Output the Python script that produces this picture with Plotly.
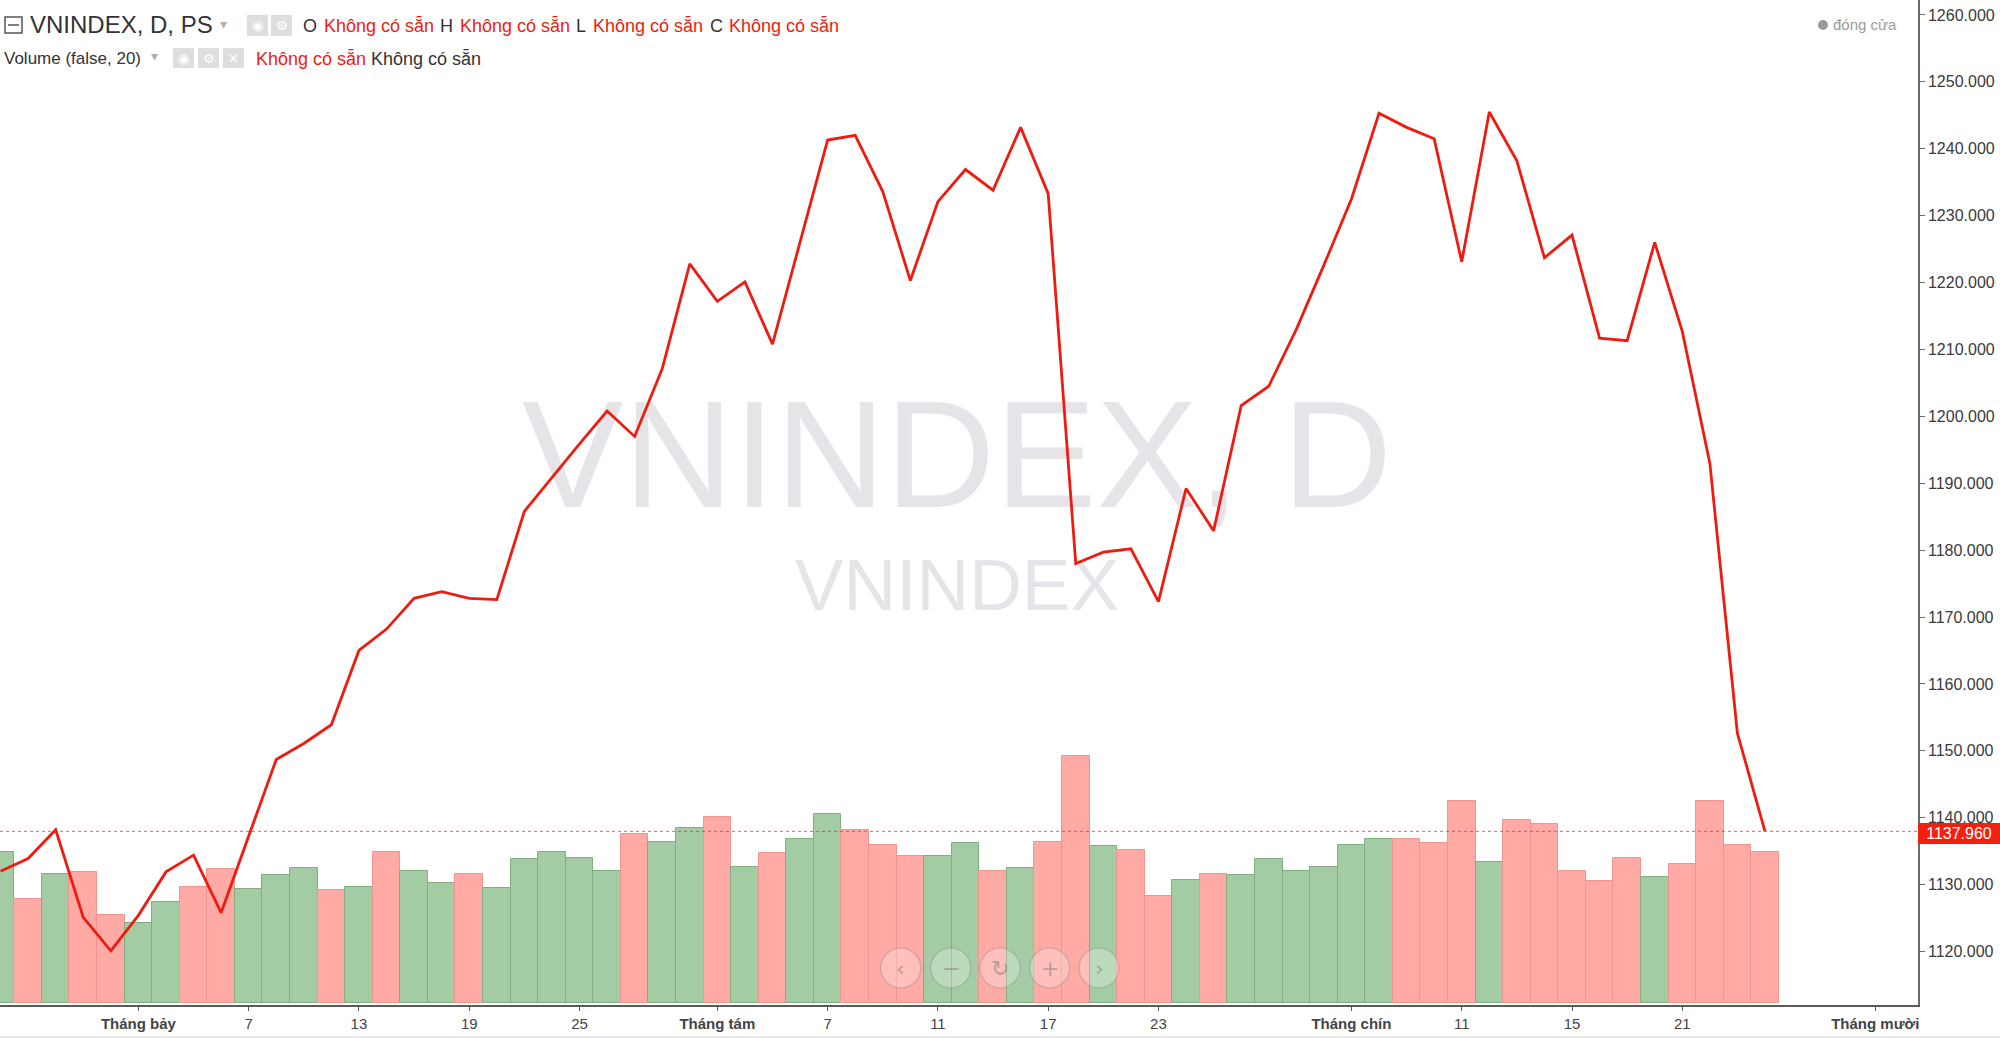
import pandas as pd
import plotly.graph_objects as go

# ---------------- data ----------------
holidays = ["2023-09-01", "2023-09-04"]
trading_days = [d.strftime("%Y-%m-%d") for d in pd.bdate_range("2023-06-26", "2023-10-02")
                if d.strftime("%Y-%m-%d") not in holidays]

close = [
    1132.0, 1133.9, 1138.2, 1125.1, 1120.1,            # Jun 26-30
    1125.4, 1131.9, 1134.4, 1125.8, 1137.3,            # Jul 3-7
    1148.7, 1151.1, 1153.9, 1165.0, 1168.2,            # Jul 10-14
    1172.8, 1173.8, 1172.8, 1172.6, 1185.8,            # Jul 17-21
    1190.9, 1195.9, 1200.8, 1197.0, 1207.1,            # Jul 24-28
    1222.8, 1217.2, 1220.1, 1210.8, 1226.0,            # Jul 31-Aug 4
    1241.3, 1242.0, 1233.6, 1220.3, 1232.1,            # Aug 7-11
    1236.9, 1233.8, 1243.2, 1233.3, 1178.0,            # Aug 14-18
    1179.7, 1180.2, 1172.3, 1189.2, 1182.9,            # Aug 21-25
    1201.6, 1204.5, 1213.0, 1222.6,                    # Aug 28-31
    1232.5, 1245.3, 1243.2, 1241.5,                    # Sep 5-8
    1223.1, 1245.5, 1238.2, 1223.7, 1227.1,            # Sep 11-15
    1211.7, 1211.3, 1226.0, 1212.7, 1193.0,            # Sep 18-22
    1152.6, 1137.96,                                   # Sep 25-26
]

volume = [
    754, 522, 645, 654, 442,
    399, 507, 580, 669, 572,
    639, 675, 565, 580, 754,
    660, 602, 645, 574, 719,
    754, 725, 660, 847, 805,
    874, 932, 682, 749, 820,
    945, 865, 792, 734, 734,
    799, 660, 675, 807, 1237,
    785, 764, 537, 615, 645,
    639, 719, 660, 682,
    792, 820, 820, 799,
    1012, 704, 915, 894, 660,
    609, 725, 632, 697, 1012,
    792, 754,
]

direction = [
    "up", "down", "up", "down", "down",
    "up", "up", "down", "down", "up",
    "up", "up", "down", "up", "down",
    "up", "up", "down", "up", "up",
    "up", "up", "up", "down", "up",
    "up", "down", "up", "down", "up",
    "up", "down", "down", "down", "up",
    "up", "down", "up", "down", "down",
    "up", "down", "down", "up", "down",
    "up", "up", "up", "up",
    "up", "up", "down", "down",
    "down", "up", "down", "down", "down",
    "down", "down", "up", "down", "down",
    "down", "down",
]

tick_dates = ["2023-07-03", "2023-07-07", "2023-07-13", "2023-07-19", "2023-07-25",
              "2023-08-01", "2023-08-07", "2023-08-11", "2023-08-17", "2023-08-23",
              "2023-09-05", "2023-09-11", "2023-09-15", "2023-09-21", "2023-10-02"]
tick_labels = ["<b>Tháng bảy</b>", "7", "13", "19", "25",
               "<b>Tháng tám</b>", "7", "11", "17", "23",
               "<b>Tháng chín</b>", "11", "15", "21", "<b>Tháng mười</b>"]

price_ticks = [1120, 1130, 1140, 1150, 1160, 1170, 1180, 1190, 1200, 1210,
               1220, 1230, 1240, 1250, 1260]
last_price = 1137.96

# ---------------- styling ----------------
W, H = 2000, 1038
PW, PH = 1918, 1005          # plot area size (px)
FONT = "Liberation Sans, Arial, Helvetica, sans-serif"
RED = "#ee1c10"
UP_FILL, UP_LINE = "#a4cca4", "#7fae80"
DN_FILL, DN_LINE = "#ffaaa5", "#f2948e"

dates = trading_days[:len(close)]
xs = [trading_days.index(d) for d in dates]
tickvals = [trading_days.index(d) for d in tick_dates]

x_range = [-0.02, 69.55]
y_price_range = [1112.0, 1262.24]
y_vol_range = [-10, 5015]

fills = [UP_FILL if d == "up" else DN_FILL for d in direction]
edges = [UP_LINE if d == "up" else DN_LINE for d in direction]


def px(x):
    return x / PW


def py(y):
    return 1 - y / PH


def data_x(pxl):
    return x_range[0] + pxl / PW * (x_range[1] - x_range[0])


def data_y(pyl):
    return y_price_range[1] - pyl / PH * (y_price_range[1] - y_price_range[0])


fig = go.Figure()

# volume bars (bottom subplot layer)
fig.add_trace(go.Bar(
    x=xs, y=volume, width=1,
    marker=dict(color=fills, line=dict(color=edges, width=1)),
    xaxis="x", yaxis="y", hoverinfo="skip",
))

# watermark (drawn under the price line)
fig.add_trace(go.Scatter(
    x=[data_x(957), data_x(957)], y=[data_y(469), data_y(592)],
    mode="text", text=["VNINDEX, D", "VNINDEX"],
    textfont=dict(family=FONT, size=[152, 73], color="#e6e4e9"),
    xaxis="x", yaxis="y2", hoverinfo="skip",
))

# price line
fig.add_trace(go.Scatter(
    x=xs, y=close, mode="lines",
    line=dict(color=RED, width=2.8),
    xaxis="x", yaxis="y2", hoverinfo="skip",
))

shapes = []
annotations = []

# dotted last-price line
shapes.append(dict(type="line", xref="paper", yref="y2", x0=0, x1=1,
                   y0=last_price, y1=last_price, layer="above",
                   line=dict(color="rgba(240,40,30,0.75)", width=1, dash="dot")))

# last price box
annotations.append(dict(xref="paper", yref="y2", x=1, y=last_price,
                        xanchor="left", yanchor="middle", showarrow=False,
                        text="1137.960", font=dict(family=FONT, size=16, color="white"),
                        bgcolor="#f2200f", borderpad=2, borderwidth=0,
                        width=78, align="center", yshift=-2))


def label(x, y, text, size, color, weight=None):
    t = f"<b>{text}</b>" if weight == "bold" else text
    annotations.append(dict(xref="paper", yref="paper", x=px(x), y=py(y),
                            xanchor="left", yanchor="middle", showarrow=False,
                            text=t, font=dict(family=FONT, size=size, color=color),
                            borderpad=0))


def icon_box(x0, x1, y0, y1, glyph):
    shapes.append(dict(type="rect", xref="paper", yref="paper",
                       x0=px(x0), x1=px(x1), y0=py(y1), y1=py(y0),
                       fillcolor="#dedede", line=dict(width=0), layer="above"))
    annotations.append(dict(xref="paper", yref="paper", x=px((x0 + x1) / 2), y=py((y0 + y1) / 2),
                            xanchor="center", yanchor="middle", showarrow=False,
                            text=glyph, font=dict(family="DejaVu Sans", size=13, color="white")))


# header row 1
shapes.append(dict(type="rect", xref="paper", yref="paper",
                   x0=px(5), x1=px(22), y0=py(33), y1=py(17),
                   line=dict(color="#555", width=1.5), layer="above"))
shapes.append(dict(type="line", xref="paper", yref="paper",
                   x0=px(8), x1=px(19), y0=py(25), y1=py(25),
                   line=dict(color="#555", width=1.5), layer="above"))
label(29, 25, "VNINDEX, D, PS", 24, "#333")
label(219, 24, "▾", 14, "#b0b0b0")
icon_box(247, 268, 15, 36, "◉")
icon_box(271, 292, 15, 36, "⚙")
label(302, 26, "O", 18, "#333")
label(323, 26, "Không có sẵn", 18, RED)
label(439, 26, "H", 18, "#333")
label(459, 26, "Không có sẵn", 18, RED)
label(575, 26, "L", 18, "#333")
label(592, 26, "Không có sẵn", 18, RED)
label(709, 26, "C", 18, "#333")
label(728, 26, "Không có sẵn", 18, RED)

# header row 2
label(3, 58, "Volume (false, 20)", 17, "#333")
label(150, 56, "▾", 14, "#b0b0b0")
icon_box(173, 194, 48, 68, "◉")
icon_box(198, 219, 48, 68, "⚙")
icon_box(223, 244, 48, 68, "✕")
label(255, 59, "Không có sẵn", 18, RED)
label(370, 59, "Không có sẵn", 18, "#333")

# top-right legend
shapes.append(dict(type="circle", xref="paper", yref="paper",
                   x0=px(1818), x1=px(1828), y0=py(30), y1=py(20),
                   fillcolor="#9a9a9a", line=dict(width=0), layer="above"))
label(1832, 24, "đóng cửa", 15, "#9a9a9a")

# navigation buttons
nav_x = [900.7, 950.7, 1000.0, 1049.7, 1099.0]
nav_glyph = ["‹", "−", "↻", "+", "›"]
for cx, g in zip(nav_x, nav_glyph):
    shapes.append(dict(type="circle", xref="paper", yref="paper",
                       x0=px(cx - 20), x1=px(cx + 20), y0=py(988), y1=py(948),
                       fillcolor="rgba(255,255,255,0.25)",
                       line=dict(color="rgba(140,140,140,0.35)", width=1.5), layer="above"))
    annotations.append(dict(xref="paper", yref="paper", x=px(cx), y=py(968),
                            xanchor="center", yanchor="middle", showarrow=False,
                            text=g, font=dict(family="DejaVu Sans", size=22,
                                              color="rgba(120,120,120,0.5)")))

# thin strip at the bottom of the page
shapes.append(dict(type="rect", xref="paper", yref="paper",
                   x0=0, x1=W / PW, y0=py(1038), y1=py(1036),
                   fillcolor="#e9e9ee", line=dict(width=0)))

fig.update_layout(
    width=W, height=H,
    margin=dict(l=0, r=W - PW, t=0, b=H - PH),
    paper_bgcolor="white", plot_bgcolor="white",
    showlegend=False, bargap=0, hovermode=False,
    xaxis=dict(range=x_range, tickmode="array", tickvals=tickvals, ticktext=tick_labels,
               showgrid=False, zeroline=False, showline=True, linecolor="#5a5a5a",
               linewidth=1.5, ticks="outside", ticklen=4, tickcolor="#5a5a5a",
               tickfont=dict(family=FONT, size=15, color="#444")),
    yaxis=dict(range=y_vol_range, visible=False, fixedrange=True),
    yaxis2=dict(range=y_price_range, overlaying="y", side="right", anchor="x",
                tickmode="array", tickvals=price_ticks, tickformat=".3f",
                showgrid=False, zeroline=False, showline=True, linecolor="#6a6a6a",
                linewidth=1.5, ticks="outside", ticklen=5, tickcolor="#6a6a6a",
                tickfont=dict(family=FONT, size=16, color="#3a3a3a")),
    shapes=shapes, annotations=annotations,
)

fig.write_html("out.html", config={"displayModeBar": False},
               post_script="document.body.style.margin='0';document.body.style.overflow='hidden';")
